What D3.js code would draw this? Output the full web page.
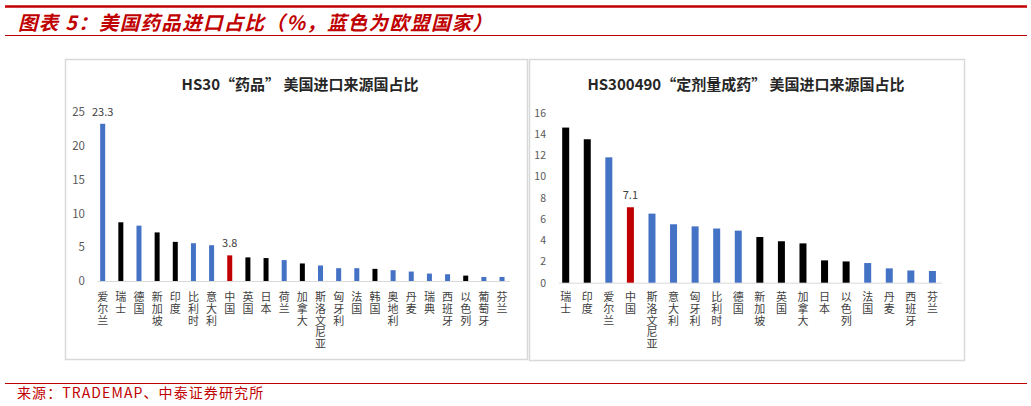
<!DOCTYPE html>
<html>
<head>
<meta charset="utf-8">
<script src="https://cdn.jsdelivr.net/npm/d3@7/dist/d3.min.js"></script>
<style>
  html, body { margin: 0; padding: 0; background: #fff; }
  svg { display: block; }
  text { font-family: "Noto Sans CJK SC", "Noto Sans", sans-serif; }
  text.cat { writing-mode: vertical-rl; text-orientation: upright; }
</style>
</head>
<body>
<svg id="chart" width="1031" height="406"></svg>
<script>
// ---------- Data ----------
const headerTitle = "图表 5：美国药品进口占比（%，蓝色为欧盟国家）";
const sourceText = "来源：TRADEMAP、中泰证券研究所";

const leftTitle = "HS30“药品”  美国进口来源国占比";
const leftCategories = ["爱尔兰","瑞士","德国","新加坡","印度","比利时","意大利","中国","英国","日本","荷兰","加拿大","斯洛文尼亚","匈牙利","法国","韩国","奥地利","丹麦","瑞典","西班牙","以色列","葡萄牙","芬兰"];
const leftValues = [23.3, 8.7, 8.2, 7.2, 5.8, 5.6, 5.3, 3.8, 3.5, 3.4, 3.1, 2.6, 2.3, 1.9, 1.9, 1.8, 1.6, 1.4, 1.1, 1.0, 0.8, 0.6, 0.6];
// group: "eu" = EU member (blue), "other" = non-EU (black), "cn" = China (red)
const leftGroups = ["eu","other","eu","other","other","eu","eu","cn","other","other","eu","other","eu","eu","eu","other","eu","eu","eu","eu","other","eu","eu"];
const leftLabeled = ["爱尔兰","中国"];
const leftTicks = [0, 5, 10, 15, 20, 25];

const rightTitle = "HS300490“定剂量成药”  美国进口来源国占比";
const rightCategories = ["瑞士","印度","爱尔兰","中国","斯洛文尼亚","意大利","匈牙利","比利时","德国","新加坡","英国","加拿大","日本","以色列","法国","丹麦","西班牙","芬兰"];
const rightValues = [14.6, 13.5, 11.8, 7.1, 6.5, 5.5, 5.3, 5.1, 4.9, 4.3, 3.9, 3.7, 2.1, 2.0, 1.85, 1.35, 1.15, 1.1];
const rightGroups = ["other","other","eu","cn","eu","eu","eu","eu","eu","other","other","other","other","other","eu","eu","eu","eu"];
const rightLabeled = ["中国"];
const rightTicks = [0, 2, 4, 6, 8, 10, 12, 14, 16];

// ---------- Styles ----------
const RED = "#C00000";
const colorScale = d3.scaleOrdinal().domain(["eu","other","cn"]).range(["#4472C4", "#000000", "#C00000"]);

const svg = d3.select("#chart");

// Header
svg.append("line").attr("x1", 5).attr("x2", 1027).attr("y1", 6.5).attr("y2", 6.5)
  .attr("stroke", RED).attr("stroke-width", 2.5);
svg.append("text").attr("x", 18).attr("y", 30)
  .attr("fill", RED).attr("font-size", 19.5).attr("font-weight", "bold")
  .attr("font-style", "italic").attr("letter-spacing", 1.3)
  .text(headerTitle);
svg.append("line").attr("x1", 5).attr("x2", 1027).attr("y1", 35.5).attr("y2", 35.5)
  .attr("stroke", RED).attr("stroke-width", 1);

// Footer
svg.append("line").attr("x1", 5).attr("x2", 1027).attr("y1", 383.5).attr("y2", 383.5)
  .attr("stroke", RED).attr("stroke-width", 1);
svg.append("text").attr("x", 17).attr("y", 397.5)
  .attr("fill", RED).attr("font-size", 14).attr("letter-spacing", 1.1)
  .text(sourceText);

function drawPanel(cfg) {
  const g = svg.append("g");
  // panel border
  g.append("rect").attr("x", cfg.box[0] + 0.5).attr("y", cfg.box[1] + 0.5)
    .attr("width", cfg.box[2] - cfg.box[0]).attr("height", cfg.box[3] - cfg.box[1])
    .attr("fill", "#fff").attr("stroke", "#d9d9d9").attr("stroke-width", 1.5);

  // title
  g.append("text").attr("x", cfg.titleX).attr("y", 90)
    .attr("text-anchor", "middle").attr("font-size", 15).attr("font-weight", "bold")
    .attr("fill", "#262626").text(cfg.title);

  const x = d3.scalePoint().domain(cfg.categories).range(cfg.xRange).padding(0.5);
  const y = d3.scaleLinear().domain(cfg.yDomain).range(cfg.yRange);

  // y axis tick labels
  const yAxis = d3.axisLeft(y).tickValues(cfg.ticks).tickSize(0).tickPadding(0);
  const ya = g.append("g").attr("transform", `translate(${cfg.tickX},0)`).call(yAxis);
  ya.select(".domain").remove();
  ya.selectAll("text").attr("font-size", cfg.tickFs).attr("fill", "#595959")
    .attr("font-family", "\"Noto Sans\", \"Noto Sans CJK SC\", sans-serif");

  // baseline
  g.append("line").attr("x1", cfg.xRange[0] + 4).attr("x2", cfg.xRange[1] - 1)
    .attr("y1", y(0) + 0.5).attr("y2", y(0) + 0.5)
    .attr("stroke", "#d9d9d9").attr("stroke-width", 1);

  const data = cfg.categories.map((c, i) => ({ c, v: cfg.values[i], grp: cfg.groups[i] }));

  g.selectAll("rect.bar").data(data).enter().append("rect").attr("class", "bar")
    .attr("x", d => x(d.c) - cfg.barW / 2)
    .attr("width", cfg.barW)
    .attr("y", d => y(d.v))
    .attr("height", d => y(0) - y(d.v))
    .attr("fill", d => colorScale(d.grp));

  // value labels
  g.selectAll("text.val").data(data.filter(d => cfg.labeled.includes(d.c))).enter()
    .append("text").attr("class", "val")
    .attr("x", d => x(d.c)).attr("y", d => y(d.v) - cfg.labelGap)
    .attr("text-anchor", "middle").attr("font-size", 11).attr("fill", "#404040")
    .attr("font-family", "\"Noto Sans\", sans-serif")
    .text(d => d3.format(".1f")(d.v));

  // category labels, vertical writing
  g.selectAll("text.cat").data(data).enter().append("text").attr("class", "cat")
    .attr("x", d => x(d.c)).attr("y", cfg.catY)
    .attr("font-size", 11).attr("letter-spacing", 0.7).attr("fill", "#404040")
    .text(d => d.c);
}

drawPanel({
  box: [65, 59, 527, 359],
  title: leftTitle, titleX: 300,
  categories: leftCategories, values: leftValues, groups: leftGroups, labeled: leftLabeled,
  ticks: leftTicks, yDomain: [0, 25], yRange: [281, 112.3], tickFs: 11.5,
  xRange: [93.6, 511.1], barW: 5, tickX: 85, labelGap: 8, catY: 291.5
});

drawPanel({
  box: [529, 59, 964, 360],
  title: rightTitle, titleX: 746,
  categories: rightCategories, values: rightValues, groups: rightGroups, labeled: rightLabeled,
  ticks: rightTicks, yDomain: [0, 16], yRange: [282.7, 112.7], tickFs: 10.5,
  xRange: [554.9, 943.2], barW: 7, tickX: 546, labelGap: 8, catY: 291.5
});
</script>
</body>
</html>
